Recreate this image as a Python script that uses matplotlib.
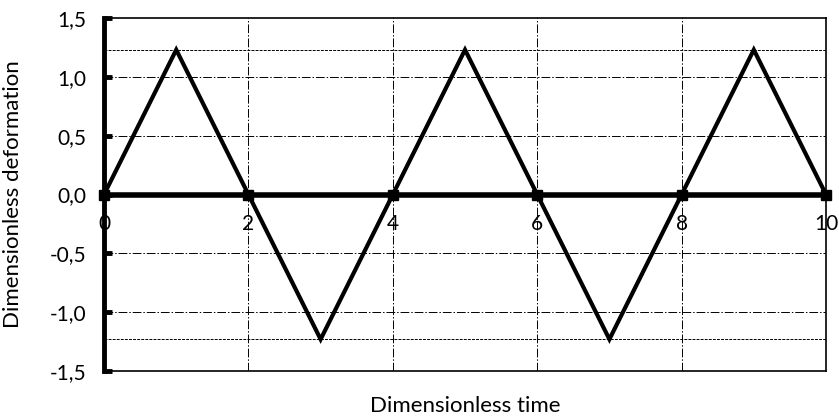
import matplotlib.pyplot as plt
import numpy as np

plt.rcParams['font.family'] = ['Lato', 'DejaVu Sans']

# triangle wave
times = [0, 1, 2, 3, 4, 5, 6, 7, 8, 9, 10]
deformation = [0, 1.23, 0, -1.23, 0, 1.23, 0, -1.23, 0, 1.23, 0]
amplitude = 1.23

x_ticks = [0, 2, 4, 6, 8, 10]
y_ticks = [-1.5, -1.0, -0.5, 0.0, 0.5, 1.0, 1.5]
y_labels = [f"{v:.1f}".replace('.', ',') for v in y_ticks]

fig = plt.figure(figsize=(8.39, 4.16), dpi=100)
ax = fig.add_axes([0.124, 0.108, 0.8605, 0.8487])

# grid: dash-dot at ticks, fine dashes at the amplitude
dashdot = (0, (9, 2, 1.5, 2))
for xv in x_ticks[1:-1]:
    ax.axvline(xv, color='black', lw=0.7, ls=dashdot, zorder=1)
for yv in y_ticks[1:-1]:
    if yv != 0:
        ax.axhline(yv, color='black', lw=0.7, ls=dashdot, zorder=1)
for yv in [amplitude, -amplitude]:
    ax.axhline(yv, color='black', lw=0.7, ls=(0, (3, 1.2)), zorder=1)

# zero line with square marks
ax.plot(x_ticks, np.zeros(len(x_ticks)), color='black', lw=4, marker='s',
        markersize=7, zorder=3, clip_on=False)
ax.plot(times, deformation, color='black', lw=3, zorder=4,
        solid_joinstyle='miter', clip_on=False)

ax.set_xlim(0, 10)
ax.set_ylim(-1.5, 1.5)
ax.set_yticks(y_ticks)
ax.set_yticklabels(y_labels, fontsize=15)
ax.set_xticks([])
ax.tick_params(axis='y', direction='in', length=6, width=3.5, pad=13)

for xv in x_ticks:
    ax.annotate(str(xv), (xv, 0), xytext=(0, -14), textcoords='offset points',
                ha='center', va='top', fontsize=15)

ax.spines['left'].set_linewidth(3.5)
for side in ['top', 'right', 'bottom']:
    ax.spines[side].set_linewidth(1.2)

ax.set_ylabel('Dimensionless deformation', fontsize=16)
ax.yaxis.set_label_coords(-0.112, 0.5)
ax.set_xlabel('Dimensionless time', fontsize=16)
ax.xaxis.set_label_coords(0.5, -0.072)

fig.savefig('out.png', dpi=100)
